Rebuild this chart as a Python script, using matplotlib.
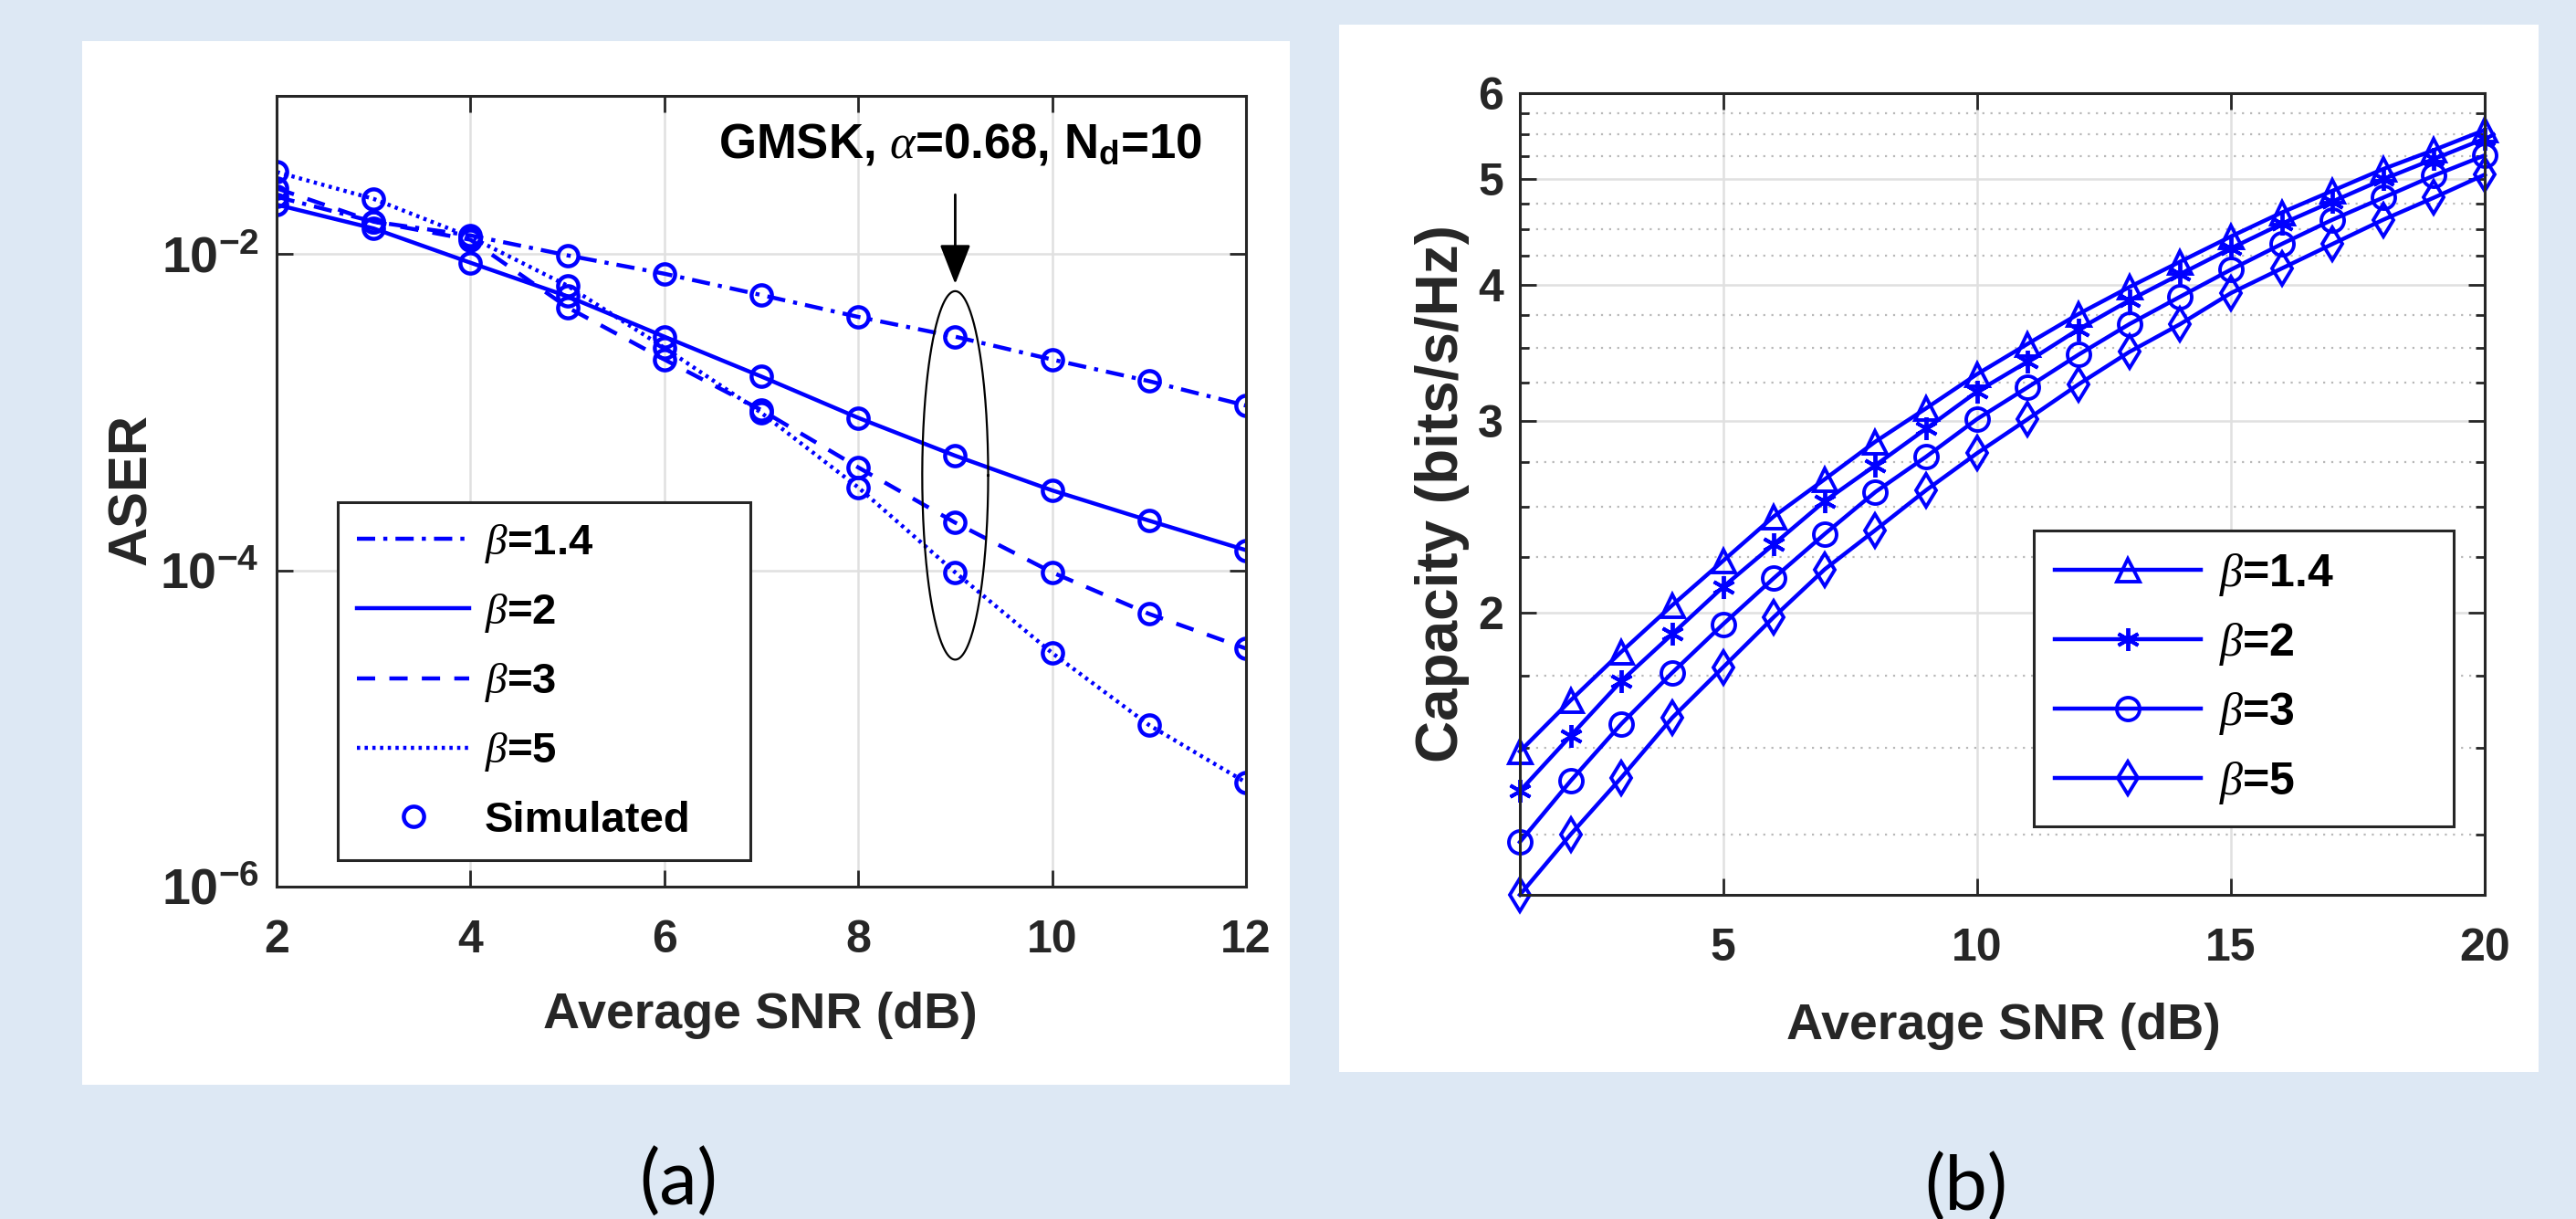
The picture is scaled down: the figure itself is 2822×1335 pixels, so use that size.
"""
Two-panel figure: ASER vs SNR (a) and capacity vs SNR (b) for several beta.
"""

import numpy as np
import matplotlib
matplotlib.use("Agg")
import matplotlib.pyplot as plt
from matplotlib.patches import Rectangle
from matplotlib.ticker import FixedLocator, FixedFormatter, NullFormatter

# =========================================================
# Fonts
# =========================================================
FONT = "Liberation Sans"
plt.rcParams["font.family"] = [FONT, "DejaVu Sans"]
plt.rcParams["mathtext.fontset"] = "custom"
plt.rcParams["mathtext.rm"] = FONT
plt.rcParams["mathtext.bf"] = FONT + ":bold"
plt.rcParams["mathtext.it"] = "Liberation Serif:italic"

# =========================================================
# Data
# =========================================================
beta_labels = [r"$\beta$=1.4", r"$\beta$=2", r"$\beta$=3", r"$\beta$=5"]

# (a) ASER
snr_a = [2, 3, 4, 5, 6, 7, 8, 9, 10, 11, 12]
aser_b14 = [2.3e-2, 1.6e-2, 1.31e-2, 9.8e-3, 7.5e-3, 5.5e-3, 4.0e-3, 3.0e-3, 2.15e-3, 1.57e-3, 1.1e-3]
aser_b2 = [2.05e-2, 1.45e-2, 8.8e-3, 5.4e-3, 3.0e-3, 1.68e-3, 9.2e-4, 5.3e-4, 3.2e-4, 2.06e-4, 1.34e-4]
aser_b3 = [2.6e-2, 1.6e-2, 1.23e-2, 4.6e-3, 2.15e-3, 1.03e-3, 4.47e-4, 2.0e-4, 9.7e-5, 5.3e-5, 3.2e-5]
aser_b5 = [3.3e-2, 2.23e-2, 1.28e-2, 6.3e-3, 2.55e-3, 9.9e-4, 3.34e-4, 9.7e-5, 3.0e-5, 1.05e-5, 4.55e-6]
aser_all = [aser_b14, aser_b2, aser_b3, aser_b5]
a_xticks = [2, 4, 6, 8, 10, 12]
a_yticks = [1e-6, 1e-4, 1e-2]
a_yticklabels = [r"$\mathbf{10^{-6}}$", r"$\mathbf{10^{-4}}$", r"$\mathbf{10^{-2}}$"]

# (b) capacity
snr_b = list(range(1, 21))
cap_b14 = [1.49, 1.66, 1.84, 2.03, 2.23, 2.45, 2.65, 2.87, 3.08, 3.31,
           3.53, 3.76, 3.98, 4.20, 4.43, 4.66, 4.88, 5.11, 5.32, 5.55]
cap_b2 = [1.37, 1.54, 1.73, 1.91, 2.11, 2.31, 2.53, 2.73, 2.95, 3.19,
          3.40, 3.64, 3.87, 4.09, 4.32, 4.55, 4.77, 5.00, 5.22, 5.45]
cap_b3 = [1.23, 1.40, 1.58, 1.76, 1.95, 2.15, 2.36, 2.58, 2.78, 3.01,
          3.22, 3.45, 3.68, 3.90, 4.13, 4.36, 4.59, 4.81, 5.04, 5.26]
cap_b5 = [1.10, 1.25, 1.41, 1.60, 1.78, 1.98, 2.19, 2.38, 2.59, 2.80,
          3.01, 3.24, 3.47, 3.68, 3.93, 4.14, 4.36, 4.59, 4.81, 5.05]
cap_all = [cap_b14, cap_b2, cap_b3, cap_b5]
b_xticks = [5, 10, 15, 20]
b_yticks = [2, 3, 4, 5, 6]

# =========================================================
# Styles
# =========================================================
BLUE = (0, 0, 1)
AX_COL = "#262626"
GRID_COL = "#e0e0e0"
LW = 3.2
a_styles = [(0, (4.5, 2.0, 1.0, 2.0)), "-", (0, (4.5, 3.5)), (0, (0.8, 1.1))]
b_markers = ["^", (6, 2, 0), "o", "d"]


def style_axes(ax):
    for sp in ax.spines.values():
        sp.set_color(AX_COL)
        sp.set_linewidth(2.2)
    ax.tick_params(which="both", direction="in", top=True, right=True,
                   colors=AX_COL, width=2)
    ax.tick_params(which="major", length=13)
    ax.tick_params(which="minor", length=7)
    ax.grid(which="major", color=GRID_COL, linewidth=1.8)
    ax.set_axisbelow(True)


fig = plt.figure(figsize=(28.22, 13.35), dpi=100, facecolor="#dde8f4")

# white panels (behind the axes)
for (x0, y0, w, h) in [(0.0319, 0.1101, 0.4688, 0.8562),
                       (0.5198, 0.1206, 0.4656, 0.8592)]:
    fig.patches.append(Rectangle((x0, y0), w, h, transform=fig.transFigure,
                                 facecolor="white", edgecolor="none", zorder=-10))

# =========================================================
# (a) ASER
# =========================================================
ax1 = fig.add_axes([0.1074, 0.2727, 0.3763, 0.6487])
ax1.set_yscale("log")
handles = []
for ys, ls, lab in zip(aser_all, a_styles, beta_labels):
    ln, = ax1.plot(snr_a, ys, color=BLUE, linestyle=ls, linewidth=LW, label=lab)
    handles.append(ln)
for i, ys in enumerate(aser_all):
    mk, = ax1.plot(snr_a, ys, linestyle="none", marker="o", markersize=16,
                   markerfacecolor="none", markeredgecolor=BLUE,
                   markeredgewidth=3.2, label="Simulated")
    if i == 0:
        sim_handle = mk
handles.append(sim_handle)

ax1.set_xlim(2, 12)
ax1.set_ylim(1e-6, 1e-1)
ax1.xaxis.set_major_locator(FixedLocator(a_xticks))
ax1.yaxis.set_major_locator(FixedLocator(a_yticks))
ax1.yaxis.set_major_formatter(FixedFormatter(a_yticklabels))
ax1.yaxis.set_minor_locator(FixedLocator([]))
ax1.yaxis.set_minor_formatter(NullFormatter())
style_axes(ax1)
ax1.tick_params(axis="x", labelsize=36, pad=26, labelcolor=AX_COL)
ax1.tick_params(axis="y", labelsize=40, pad=14, labelcolor=AX_COL)
for t in ax1.get_xticklabels():
    t.set_fontweight("bold")

ax1.set_xlabel("Average SNR (dB)", fontsize=40, fontweight="bold", color=AX_COL,
               va="center", ha="center")
ax1.xaxis.set_label_coords(0.499, -0.163)
ax1.set_ylabel("ASER", fontsize=43, fontweight="bold", color=AX_COL,
               va="center", ha="center")
ax1.yaxis.set_label_coords(-0.149, 0.502)

leg1 = ax1.legend(handles, [h.get_label() for h in handles], loc="lower left",
                  bbox_to_anchor=(0.063, 0.0335, 0.426, 0.45), mode="expand",
                  borderaxespad=0, fontsize=34, handlelength=2.6,
                  handletextpad=0.35, labelspacing=0.62, borderpad=0.45,
                  fancybox=False, framealpha=1, edgecolor=AX_COL, numpoints=1)
leg1.get_frame().set_linewidth(2.2)
for t in leg1.get_texts():
    t.set_fontweight("bold")

# ellipse around SNR = 9 and annotation
t_e = np.linspace(0, 2 * np.pi, 300)
ax1.plot(9 + 0.34 * np.cos(t_e), 10 ** (-3.40 + 1.165 * np.sin(t_e)),
         color="black", linewidth=1.6)
ax1.annotate("", xy=(9, 10 ** -2.19), xytext=(9, 10 ** -1.625),
             arrowprops=dict(arrowstyle="-|>,head_length=0.9,head_width=0.35",
                             color="black", lw=2, shrinkA=0, shrinkB=0,
                             mutation_scale=30))
ax1.text(9.05, 10 ** -1.308, r"GMSK, $\alpha$=0.68, N$_\mathbf{d}$=10",
         ha="center", va="center", fontsize=38, fontweight="bold", color="black")

# =========================================================
# (b) Capacity
# =========================================================
ax2 = fig.add_axes([0.590, 0.2659, 0.3746, 0.6577])
ax2.set_yscale("log")
for ys, mk, lab in zip(cap_all, b_markers, beta_labels):
    ax2.plot(snr_b, ys, color=BLUE, linewidth=LW, marker=mk, markersize=18,
             markerfacecolor="none", markeredgecolor=BLUE,
             markeredgewidth=2.8, label=lab, clip_on=False)

ax2.set_xlim(1, 20)
ax2.set_ylim(1.1, 6)
ax2.xaxis.set_major_locator(FixedLocator(b_xticks))
ax2.yaxis.set_major_locator(FixedLocator(b_yticks))
ax2.yaxis.set_major_formatter(FixedFormatter([str(v) for v in b_yticks]))
minor = [v for v in np.arange(1.25, 6.0, 0.25) if abs(v - round(v)) > 1e-6]
ax2.yaxis.set_minor_locator(FixedLocator(minor))
ax2.yaxis.set_minor_formatter(NullFormatter())
style_axes(ax2)
ax2.yaxis.grid(which="minor", linestyle=(0, (1, 3)), color="#b8b8b8",
               linewidth=1.6)
ax2.tick_params(axis="x", labelsize=36, pad=26, labelcolor=AX_COL)
ax2.tick_params(axis="y", labelsize=36, pad=13, labelcolor=AX_COL)
for t in ax2.get_xticklabels() + ax2.get_yticklabels():
    t.set_fontweight("bold")

ax2.set_xlabel("Average SNR (dB)", fontsize=40, fontweight="bold", color=AX_COL,
               va="center", ha="center")
ax2.xaxis.set_label_coords(0.501, -0.164)
ax2.set_ylabel("Capacity (bits/s/Hz)", fontsize=46, fontweight="bold",
               color=AX_COL, va="center", ha="center")
ax2.yaxis.set_label_coords(-0.080, 0.501)

leg2 = ax2.legend(loc="lower left", bbox_to_anchor=(0.533, 0.0854, 0.435, 0.36),
                  mode="expand", borderaxespad=0, fontsize=36, handlelength=3.2,
                  handletextpad=0.4, labelspacing=0.5, borderpad=0.45,
                  fancybox=False, framealpha=1, edgecolor=AX_COL, numpoints=1)
leg2.get_frame().set_linewidth(2.2)
for t in leg2.get_texts():
    t.set_fontweight("bold")

# panel captions
fig.text(0.2633, 0.0292, "(a)", fontsize=60, family=["Lato", "DejaVu Sans"],
         ha="center", va="center", color="black")
fig.text(0.7633, 0.0247, "(b)", fontsize=60, family=["Lato", "DejaVu Sans"],
         ha="center", va="center", color="black")

fig.savefig("out.png", dpi=100, facecolor=fig.get_facecolor())
